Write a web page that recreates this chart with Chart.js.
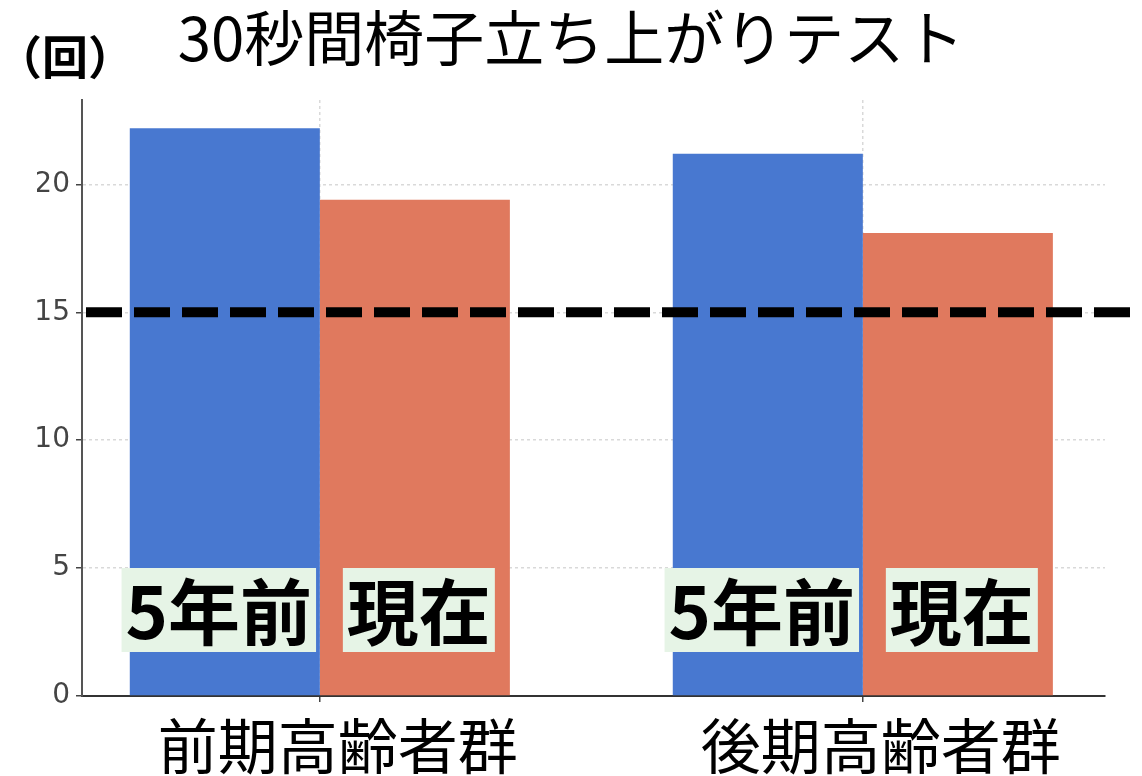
<!DOCTYPE html>
<html>
<head>
<meta charset="utf-8">
<script src="https://cdn.jsdelivr.net/npm/chart.js@4"></script>
<style>
  html, body { margin: 0; padding: 0; background: #fff; }
  #wrap { width: 1142px; height: 776px; }
</style>
</head>
<body>
<div id="wrap"><canvas id="chart"></canvas></div>
<script>
// 30秒間椅子立ち上がりテスト
const titleText = '30秒間椅子立ち上がりテスト';
const unitText = '（回）';
const categories = ['前期高齢者群', '後期高齢者群'];
const seriesNames = ['5年前', '現在'];
const before5y = [22.2, 21.2];
const current = [19.4, 18.1];
const yTicks = [0, 5, 10, 15, 20];
const threshold = 15;

const JP = '"Noto Sans CJK JP", "Noto Sans", sans-serif';

// dashed reference line at the threshold
const thresholdLine = {
    id: 'thresholdLine',
    afterDatasetsDraw(chart) {
        const ctx = chart.ctx;
        const y = chart.scales.y.getPixelForValue(threshold);
        ctx.save();
        ctx.strokeStyle = '#000';
        ctx.lineWidth = 10;
        ctx.setLineDash([36, 12]);
        ctx.beginPath();
        ctx.moveTo(chart.chartArea.left + 4, y);
        ctx.lineTo(chart.width - 12, y);
        ctx.stroke();
        ctx.restore();
    }
};

// series name boxes inside the bars
const barLabels = {
    id: 'barLabels',
    afterDatasetsDraw(chart) {
        const ctx = chart.ctx;
        const cy = chart.chartArea.bottom - 86;
        const nudge = [-6, 4]; // boxes sit a little outward in the original
        ctx.save();
        ctx.font = 'bold 72px ' + JP;
        ctx.textAlign = 'center';
        ctx.textBaseline = 'middle';
        chart.data.datasets.forEach((ds, di) => {
            chart.getDatasetMeta(di).data.forEach(bar => {
                const x = bar.x + nudge[di];
                const w = ctx.measureText(ds.label).width + 8;
                const h = 84;
                ctx.fillStyle = '#e6f4e6';
                ctx.fillRect(x - w / 2, cy - h / 2, w, h);
                ctx.fillStyle = '#000';
                ctx.fillText(ds.label, x, cy + 2);
            });
        });
        ctx.restore();
    }
};

// unit label top left
const unitLabel = {
    id: 'unitLabel',
    afterDraw(chart) {
        const ctx = chart.ctx;
        ctx.save();
        ctx.font = 'bold 46px ' + JP;
        ctx.fillStyle = '#000';
        ctx.textAlign = 'center';
        ctx.textBaseline = 'middle';
        ctx.fillText(unitText, 65, 57);
        ctx.restore();
    }
};

const gridStyle = {
    color: '#d9d9d9',
    lineWidth: 1.5,
    tickColor: '#444',
    tickLength: 6,
    offset: false
};

new Chart(document.getElementById('chart'), {
    type: 'bar',
    data: {
        datasets: [
            {
                label: seriesNames[0],
                data: before5y.map((v, i) => ({ x: i, y: v })),
                backgroundColor: '#4878d0'
            },
            {
                label: seriesNames[1],
                data: current.map((v, i) => ({ x: i, y: v })),
                backgroundColor: '#e0795e'
            }
        ]
    },
    options: {
        responsive: true,
        maintainAspectRatio: false,
        animation: false,
        devicePixelRatio: 1,
        categoryPercentage: 0.7,
        barPercentage: 1.0,
        layout: { padding: { left: 37, right: 37, top: 0, bottom: 0 } },
        plugins: {
            legend: { display: false },
            tooltip: { enabled: false },
            title: {
                display: true,
                text: titleText,
                color: '#000',
                font: { family: JP, size: 60, weight: 'normal' },
                padding: { top: 2, bottom: 26 }
            }
        },
        scales: {
            x: {
                type: 'linear',
                offset: false,
                min: -0.438,
                max: 1.446,
                grid: gridStyle,
                border: { color: '#333', width: 2, dash: [3, 3] },
                afterBuildTicks(scale) {
                    scale.ticks = categories.map((c, i) => ({ value: i }));
                },
                ticks: {
                    autoSkip: false,
                    maxRotation: 0,
                    labelOffset: 18,
                    padding: 8,
                    color: '#000',
                    font: { family: JP, size: 60 },
                    callback: v => categories[v]
                },
                afterFit(scale) { scale.height = 80; }
            },
            y: {
                min: 0,
                max: 23.3,
                grid: gridStyle,
                border: { color: '#555', width: 2, dash: [3, 3] },
                afterBuildTicks(scale) {
                    scale.ticks = yTicks.map(v => ({ value: v }));
                },
                ticks: {
                    padding: 6,
                    color: '#444',
                    font: { family: '"DejaVu Sans", sans-serif', size: 28 }
                },
                afterFit(scale) { scale.width = 45; }
            }
        }
    },
    plugins: [thresholdLine, barLabels, unitLabel]
});
</script>
</body>
</html>
